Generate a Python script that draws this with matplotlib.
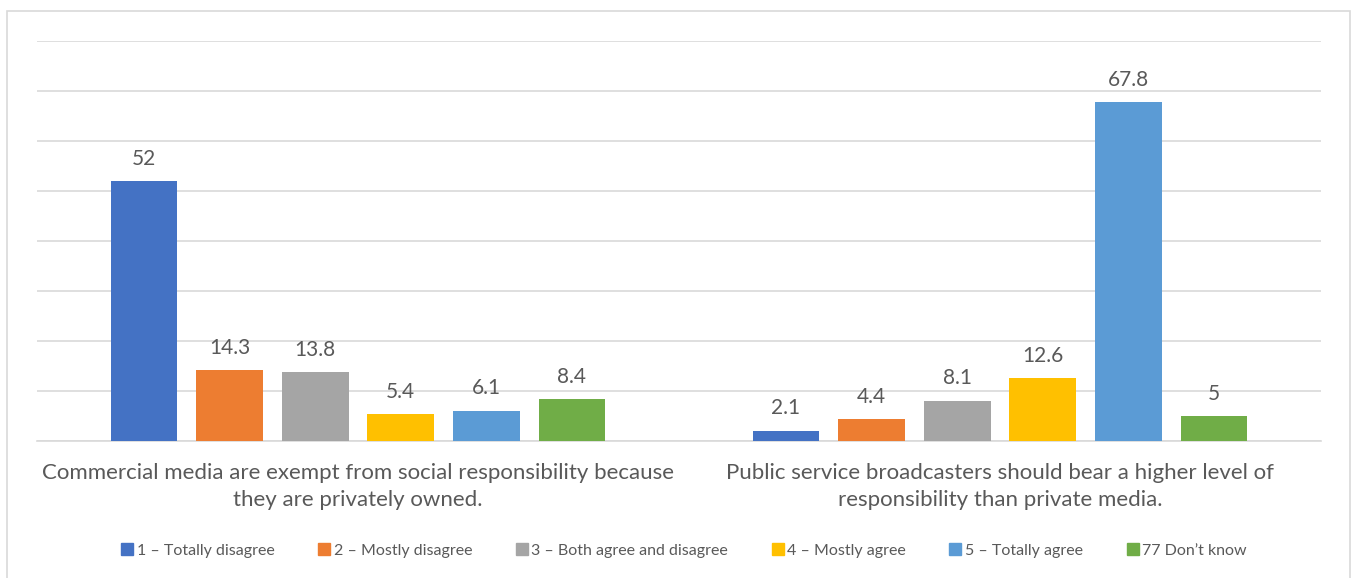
import matplotlib
matplotlib.use('Agg')
import matplotlib.pyplot as plt
from matplotlib.patches import Rectangle
from matplotlib.lines import Line2D
import numpy as np

# 数据
categories = ['Commercial media are exempt from social responsibility because\nthey are privately owned.',
              'Public service broadcasters should bear a higher level of\nresponsibility than private media.']
series_names = ['1 – Totally disagree', '2 – Mostly disagree', '3 – Both agree and disagree',
                '4 – Mostly agree', '5 – Totally agree', '77 Don’t know']
totally_disagree = [52, 2.1]
mostly_disagree = [14.3, 4.4]
both = [13.8, 8.1]
mostly_agree = [5.4, 12.6]
totally_agree = [6.1, 67.8]
dont_know = [8.4, 5]
colors = ['#4472C4', '#ED7D31', '#A5A5A5', '#FFC000', '#5B9BD5', '#70AD47']

values = [totally_disagree, mostly_disagree, both, mostly_agree, totally_agree, dont_know]

plt.rcParams['font.family'] = ['Lato', 'DejaVu Sans']
text_color = '#595959'

fig = plt.figure(figsize=(13.54, 5.78), dpi=100)
ax = fig.add_axes([37/1354, 137/578, 1284/1354, 400/578])

# 外框
fig.patches.append(Rectangle((7/1354, -0.05), 1343/1354, 0.05 + 567/578, transform=fig.transFigure,
                             fill=False, edgecolor='#D9D9D9', linewidth=1.2))

x = np.arange(len(categories))
slot = 0.8 / len(values)
width = slot * 0.78
for i, (vals, c, name) in enumerate(zip(values, colors, series_names)):
    pos = x - 0.4 + slot * (i + 0.5)
    bars = ax.bar(pos, vals, width, color=c, label=name, zorder=3)
    for b, v in zip(bars, vals):
        ax.text(b.get_x() + b.get_width() / 2, v + 2.4, f'{v:g}', ha='center', va='bottom',
                fontsize=15, color=text_color)

ax.set_xlim(-0.5, 1.5)
ax.set_ylim(0, 80)
ax.set_yticks(np.arange(0, 81, 10))
ax.set_yticklabels([])
ax.yaxis.grid(True, color='#D9D9D9', linewidth=1.2, zorder=0)
ax.tick_params(axis='y', length=0)
ax.tick_params(axis='x', length=0, pad=16)
ax.set_xticks(x)
ax.set_xticklabels(categories, fontsize=16, color=text_color, linespacing=1.45)
for s in ['top', 'right', 'left']:
    ax.spines[s].set_visible(False)
ax.spines['bottom'].set_color('#D9D9D9')
ax.spines['bottom'].set_linewidth(1.2)

handles = [Line2D([0], [0], marker='s', linestyle='none', markersize=8,
                  markerfacecolor=c, markeredgecolor=c) for c in colors]
fig.legend(handles, series_names, loc='center', bbox_to_anchor=(683/1354, 1 - 551/578),
           ncol=6, frameon=False, fontsize=11.5, labelcolor=text_color,
           handletextpad=0.1, columnspacing=2.6, handlelength=1.0)

plt.savefig('out.png', dpi=100)
